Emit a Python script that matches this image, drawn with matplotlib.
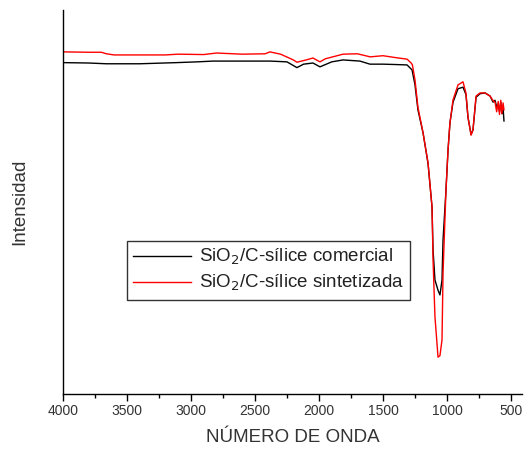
import numpy as np
import matplotlib
matplotlib.use("Agg")
import matplotlib.pyplot as plt
from matplotlib.ticker import MultipleLocator

plt.rcParams['font.family'] = ['Liberation Sans', 'DejaVu Sans']

# FTIR spectra (wavenumber in cm-1, intensity in arbitrary units)
wn_comercial = [4000, 3800, 3660, 3400, 3112, 2950, 2828, 2600, 2383, 2250, 2172,
                2120, 2047, 1992, 1900, 1812, 1680, 1602, 1500, 1400, 1312, 1273,
                1250, 1227, 1187, 1148, 1117, 1109, 1094, 1070, 1055, 1039, 1031,
                1008, 992, 977, 953, 914, 875, 852, 836, 812, 797, 773, 742, 703,
                664, 640, 625, 610, 600, 590, 580, 570, 562, 555]
y_comercial = [86.3, 86.2, 86.0, 86.0, 86.3, 86.5, 86.7, 86.7, 86.7, 86.5, 85.0,
               85.9, 86.2, 85.2, 86.5, 87.0, 86.7, 85.9, 85.9, 85.8, 85.7, 84.4,
               80.5, 74.0, 68.0, 60.0, 48.7, 37.5, 29.7, 27.0, 25.8, 29.7, 40.1,
               53.1, 63.5, 70.6, 76.0, 79.5, 79.9, 78.0, 72.0, 67.6, 68.8, 77.3,
               78.2, 78.4, 77.6, 76.0, 76.5, 74.5, 75.5, 73.5, 76.0, 73.0, 74.5, 71.1]

wn_sintetizada = [4000, 3800, 3700, 3660, 3600, 3400, 3200, 3100, 2900, 2800, 2600,
                  2420, 2383, 2300, 2200, 2172, 2100, 2047, 1992, 1950, 1812, 1700,
                  1600, 1500, 1400, 1312, 1280, 1270, 1250, 1227, 1187, 1148, 1117,
                  1109, 1094, 1070, 1055, 1039, 1031, 1008, 992, 977, 953, 914, 875,
                  852, 836, 812, 797, 773, 742, 703, 664, 640, 625, 612, 600, 590,
                  580, 572, 562, 555]
y_sintetizada = [89.1, 89.0, 89.0, 88.6, 88.3, 88.3, 88.3, 88.5, 88.4, 88.8, 88.5,
                 88.6, 89.1, 88.5, 87.0, 86.4, 87.0, 87.5, 86.5, 87.3, 88.5, 88.6,
                 87.8, 88.1, 87.6, 87.2, 86.2, 85.7, 81.8, 74.7, 68.0, 60.2, 48.7,
                 34.9, 20.1, 9.6, 10.0, 14.1, 31.5, 53.1, 63.5, 70.6, 76.6, 80.5,
                 81.3, 78.4, 72.1, 67.4, 68.8, 77.6, 78.4, 78.4, 77.6, 76.4, 76.0,
                 73.5, 76.2, 72.8, 76.5, 73.0, 75.8, 74.0]

fig = plt.figure(figsize=(5.24, 4.55), dpi=100)
ax = fig.add_axes([0.120, 0.134, 0.876, 0.844])

ax.plot(wn_comercial, y_comercial, color='black', lw=1.0,
        label='SiO$_2$/C-sílice comercial')
ax.plot(wn_sintetizada, y_sintetizada, color='#ff0000', lw=1.0,
        label='SiO$_2$/C-sílice sintetizada')

ax.set_xlim(4000, 415)
ax.set_ylim(0, 100)
ax.xaxis.set_major_locator(MultipleLocator(500))
ax.xaxis.set_minor_locator(MultipleLocator(250))
ax.tick_params(axis='x', which='major', direction='out', length=5, width=1,
               labelsize=10, labelcolor='#333333', pad=2)
ax.tick_params(axis='x', which='minor', direction='out', length=3, width=1)
ax.set_yticks([])
for side in ('top', 'right'):
    ax.spines[side].set_visible(False)
for side in ('left', 'bottom'):
    ax.spines[side].set_linewidth(1.0)

ax.set_xlabel('NÚMERO DE ONDA', fontsize=13.5, color='#333333', labelpad=8)
ax.set_ylabel('Intensidad', fontsize=13.5, color='#333333', labelpad=25)

leg = ax.legend(loc='lower left', bbox_to_anchor=(0.139, 0.245), fontsize=13.5,
                frameon=True, fancybox=False, edgecolor='black',
                handlelength=3.1, handletextpad=0.4, borderpad=0.35,
                labelspacing=0.3, borderaxespad=0)
leg.get_frame().set_linewidth(1.0)
for t in leg.get_texts():
    t.set_color('#222222')

fig.savefig('out.png', dpi=100)
